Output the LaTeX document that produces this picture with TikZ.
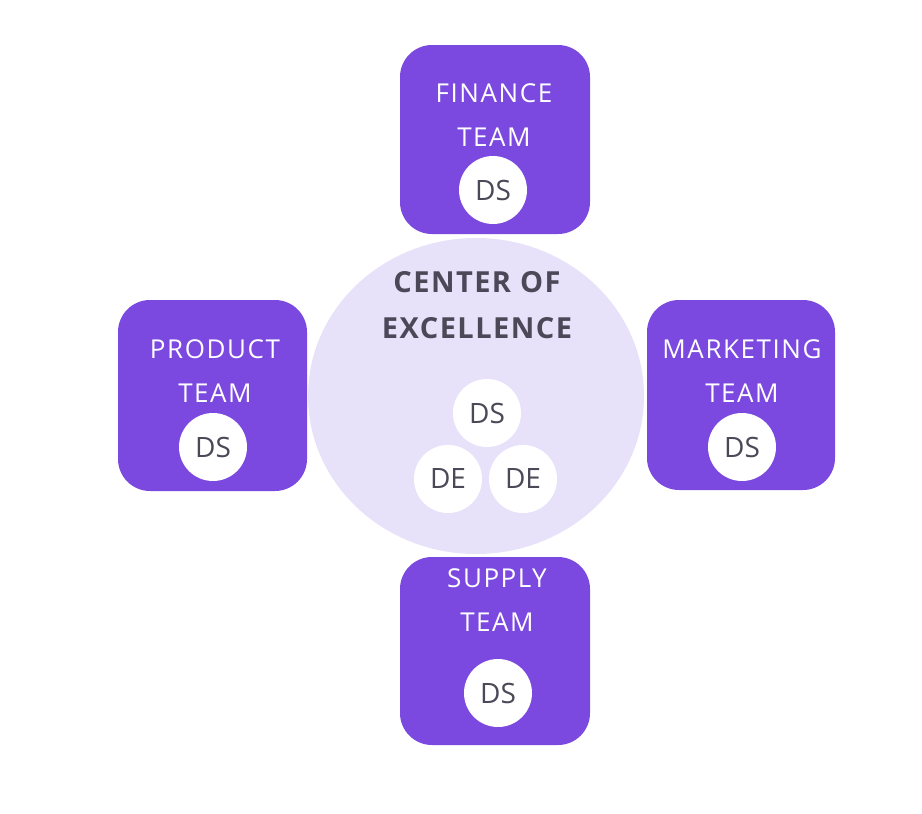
\documentclass[tikz,border=0pt]{standalone}
\usepackage{fontspec}
\setmainfont{Open Sans}
\newfontfamily\teamfont[LetterSpace=6]{Open Sans}
\newfontfamily\coefont[LetterSpace=5]{Open Sans}
\usetikzlibrary{shapes.geometric}
\definecolor{teampurple}{HTML}{7B48E0}
\definecolor{coefill}{HTML}{E7E2FA}
\definecolor{darktext}{HTML}{4B4858}
\tikzset{
  team/.style={fill=teampurple, rounded corners=32pt, draw=none},
  teamlabel/.style={text=white, align=center, inner sep=0pt, font=\teamfont\fontsize{26}{44}\selectfont},
  member/.style={circle, fill=white, minimum size=68pt, inner sep=0pt, text=darktext, font=\fontsize{28}{30}\selectfont},
  coelabel/.style={text=darktext, align=center, inner sep=0pt, font=\coefont\fontsize{29}{46}\selectfont\bfseries},
  coe/.style={ellipse, fill=coefill, draw=none, minimum width=336pt, minimum height=316pt, inner sep=0pt}
}
\begin{document}
\begin{tikzpicture}[x=1pt,y=-1pt]
\useasboundingbox[fill=white] (0,0) rectangle (922,814);
% center of excellence
\node[coe] (coe) at (476,396) {};
\node[coelabel] (coetext) at (477,305) {CENTER OF\\EXCELLENCE};
\node[member] (coeds) at (487,413) {DS};
\node[member] (coede1) at (448,479) {DE};
\node[member] (coede2) at (523,479) {DE};
% teams
\fill[team] (400,45) rectangle (590,234);
\node[teamlabel] (fin) at (494,115) {FINANCE\\TEAM};
\node[member] (finds) at (493,190) {DS};

\fill[team] (118,300) rectangle (307,491);
\node[teamlabel] (prod) at (215,371) {PRODUCT\\TEAM};
\node[member] (prodds) at (213,447) {DS};

\fill[team] (647,300) rectangle (835,490);
\node[teamlabel] (mkt) at (742,371) {MARKETING\\TEAM};
\node[member] (mktds) at (742,447) {DS};

\fill[team] (400,557) rectangle (590,745);
\node[teamlabel] (sup) at (497,600) {SUPPLY\\TEAM};
\node[member] (supds) at (498,693) {DS};
\end{tikzpicture}
\end{document}
